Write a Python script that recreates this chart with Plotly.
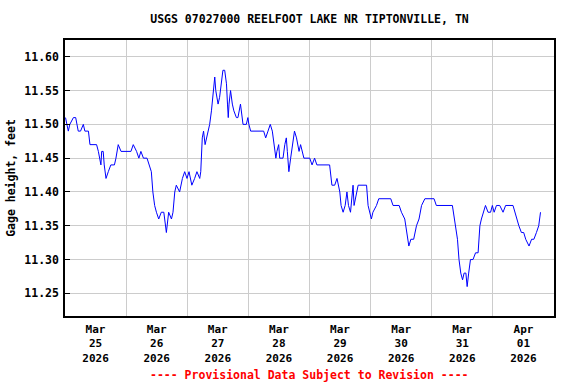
import datetime as dt
import plotly.graph_objects as go

# hours since 2026-03-25 00:00 and gage height (ft)
hours = [0.2, 1.3, 1.9, 3.3, 4.2, 5.2, 6.1, 7.2, 7.8, 9.2, 9.8, 12.4, 13.1, 14.1, 14.4, 15.0, 15.4,
         16.1, 17.0, 18.0, 19.4, 20.0, 20.9, 22.0, 25.9, 26.8, 28.1, 29.0, 29.8, 30.8, 32.2, 33.0,
         33.9, 34.5, 35.2, 35.9, 36.8, 37.8, 38.8, 39.8, 40.7, 41.8, 42.4, 43.1, 43.7, 45.0, 46.1,
         47.0, 47.9, 48.7, 49.8, 50.9, 51.8, 52.9, 53.3, 53.9, 54.4, 55.0, 55.7, 56.4, 56.8, 57.5,
         58.1, 58.8, 59.2, 60.1, 60.7, 61.4, 62.0, 62.7, 63.4, 63.8, 64.1, 64.4, 65.0, 65.7, 66.3,
         67.3, 67.9, 68.9, 69.3, 69.9, 71.2, 71.8, 72.2, 72.9, 78.0, 78.8, 79.7, 80.6, 81.4, 82.2,
         82.8, 83.2, 83.9, 84.3, 85.6, 86.3, 86.9, 87.3, 87.9, 88.6, 89.3, 90.1, 90.9, 91.4, 91.9,
         92.5, 93.1, 93.8, 96.1, 97.0, 98.0, 98.9, 103.9, 104.8, 105.9, 106.8, 107.9, 108.4, 109.2,
         110.0, 110.7, 111.3, 112.1, 112.7, 113.1, 113.5, 114.0, 115.1, 118.4, 119.0, 120.3, 120.9,
         122.3, 123.2, 127.9, 128.8, 131.2, 132.1, 133.4, 134.1, 135.0, 135.8, 136.9, 138.0, 139.0,
         140.0, 141.3, 144.9, 145.8, 152.1, 152.8, 153.4, 154.1, 154.7, 155.4, 156.1, 156.7, 157.4,
         157.9, 158.5, 159.2, 160.2, 161.2, 162.2, 162.9, 163.5, 164.4, 165.1, 166.1, 167.1, 167.8,
         168.5, 169.4, 170.7, 172.0, 173.0, 175.9, 176.6, 177.3, 178.2, 179.2, 180.1, 180.9, 182.2,
         183.2, 184.1, 185.1, 186.0, 186.7]
gage = [11.51, 11.49, 11.50, 11.51, 11.51, 11.49, 11.49, 11.50, 11.49, 11.49, 11.47, 11.47, 11.46,
        11.44, 11.46, 11.46, 11.44, 11.42, 11.43, 11.44, 11.44, 11.45, 11.47, 11.46, 11.46, 11.47,
        11.46, 11.45, 11.46, 11.45, 11.45, 11.44, 11.43, 11.40, 11.38, 11.37, 11.36, 11.37, 11.37,
        11.34, 11.37, 11.36, 11.37, 11.40, 11.41, 11.40, 11.42, 11.43, 11.42, 11.43, 11.41, 11.42,
        11.43, 11.42, 11.43, 11.48, 11.49, 11.47, 11.48, 11.49, 11.50, 11.52, 11.54, 11.57, 11.55,
        11.53, 11.54, 11.56, 11.58, 11.58, 11.56, 11.53, 11.51, 11.53, 11.55, 11.53, 11.52, 11.51,
        11.51, 11.53, 11.52, 11.50, 11.50, 11.51, 11.50, 11.49, 11.49, 11.48, 11.49, 11.50, 11.49,
        11.47, 11.45, 11.46, 11.47, 11.45, 11.45, 11.47, 11.48, 11.46, 11.43, 11.45, 11.47, 11.49,
        11.48, 11.47, 11.46, 11.47, 11.46, 11.45, 11.45, 11.44, 11.45, 11.44, 11.44, 11.41, 11.41,
        11.42, 11.40, 11.38, 11.37, 11.38, 11.40, 11.38, 11.37, 11.40, 11.41, 11.38, 11.39, 11.41,
        11.41, 11.38, 11.36, 11.37, 11.38, 11.39, 11.39, 11.38, 11.38, 11.37, 11.36, 11.34, 11.32,
        11.33, 11.33, 11.35, 11.36, 11.38, 11.39, 11.39, 11.38, 11.38, 11.36, 11.35, 11.33, 11.30,
        11.28, 11.27, 11.28, 11.28, 11.26, 11.28, 11.30, 11.30, 11.31, 11.31, 11.35, 11.36, 11.37,
        11.38, 11.37, 11.37, 11.38, 11.37, 11.38, 11.38, 11.37, 11.38, 11.38, 11.37, 11.36, 11.35,
        11.34, 11.34, 11.33, 11.32, 11.33, 11.33, 11.34, 11.35, 11.37]

day_labels = ["Mar<br>25<br>2026", "Mar<br>26<br>2026", "Mar<br>27<br>2026", "Mar<br>28<br>2026",
              "Mar<br>29<br>2026", "Mar<br>30<br>2026", "Mar<br>31<br>2026", "Apr<br>01<br>2026"]
y_ticks = [11.25, 11.30, 11.35, 11.40, 11.45, 11.50, 11.55, 11.60]

start = dt.datetime(2026, 3, 25)
times = [start + dt.timedelta(hours=h) for h in hours]
noons = [start + dt.timedelta(days=i, hours=12) for i in range(8)]
midnights = [start + dt.timedelta(days=i) for i in range(1, 8)]

FONT = "DejaVu Sans Mono"

fig = go.Figure()
fig.add_trace(go.Scatter(x=times, y=gage, mode="lines",
                         line=dict(color="#0000ff", width=1), hoverinfo="x+y"))

fig.update_layout(
    width=576, height=384,
    margin=dict(l=65, r=22, t=40, b=68, autoexpand=False),
    paper_bgcolor="white", plot_bgcolor="white",
    showlegend=False,
    font=dict(family=FONT, size=11.5, color="black"),
    title=dict(text="<b>USGS 07027000 REELFOOT LAKE NR TIPTONVILLE, TN</b>",
               x=309.5 / 576, xanchor="center",
               y=1 - 19 / 384, yanchor="middle",
               font=dict(family=FONT, size=11.5, color="black")),
)

fig.update_xaxes(
    range=[start, start + dt.timedelta(days=8)],
    automargin=False,
    tickmode="array", tickvals=noons,
    ticktext=["<b>" + t.replace("<br>", "</b><br><b>") + "</b>" for t in day_labels],
    ticks="", showgrid=False, zeroline=False,
    showline=True, mirror=True, linecolor="black", linewidth=1.5,
    tickfont=dict(family=FONT, size=11, color="black"),
    ticklabelstandoff=2,
    minor=dict(tickmode="array", tickvals=midnights, showgrid=True,
               gridcolor="#cccccc", gridwidth=1, ticks=""),
)

fig.update_yaxes(
    range=[11.2165, 11.6248],
    automargin=False,
    tickmode="array", tickvals=y_ticks,
    ticktext=["<b>%.2f</b>" % v for v in y_ticks],
    ticks="inside", ticklen=5, tickcolor="black", tickwidth=1,
    showgrid=True, gridcolor="#cccccc", gridwidth=1, zeroline=False,
    showline=True, mirror=True, linecolor="black", linewidth=1.5,
    tickfont=dict(family=FONT, size=11.5, color="black"),
    ticklabelstandoff=2,
    title=dict(text="<b>Gage height, feet</b>", standoff=6,
               font=dict(family=FONT, size=11.5, color="black")),
)

fig.add_annotation(
    text="<b>---- Provisional Data Subject to Revision ----</b>",
    xref="paper", yref="paper", x=309.5 / 576 * 576 / 489 - 65 / 489, y=-(375 - 316) / 276,
    xanchor="center", yanchor="middle",
    showarrow=False, font=dict(family=FONT, size=11.5, color="#ff0000"),
)

fig.write_html("out.html", config={"displayModeBar": False},
               post_script="document.body.style.margin='0';document.body.style.padding='0';")
